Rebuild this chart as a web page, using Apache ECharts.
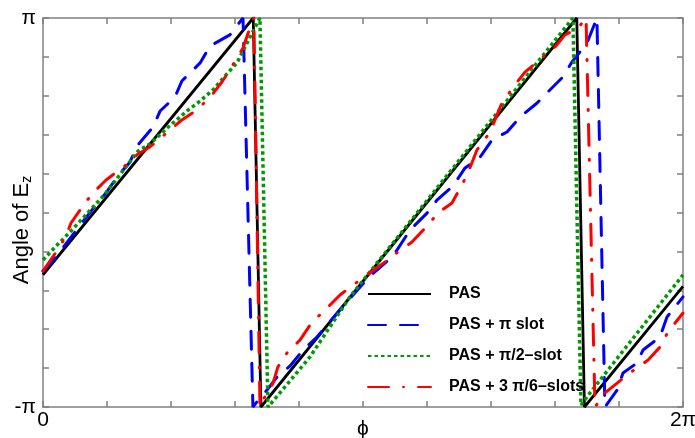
<!DOCTYPE html>
<html><head><meta charset="utf-8">
<script src="https://cdn.jsdelivr.net/npm/echarts@6/dist/echarts.min.js"></script>
<style>html,body{margin:0;padding:0;background:#fff}#c{width:695px;height:438px}</style>
</head><body><div id="c"></div>
<script>
// All x (phi) and y (angle) values are in units of pi.
const seriesNames = ['PAS', 'PAS + π slot', 'PAS + π/2\u2013slot', 'PAS + 3 π/6\u2013slots'];

const pasX = [0, 0.657, 0.681, 1.668, 1.692, 2.0];
const pasY = [-0.32, 1.0, -1.0, 1.0, -1.0, -0.38];

const piSlotX = [0, 0.0375, 0.078, 0.119, 0.1625, 0.194, 0.234, 0.272, 0.294, 0.344, 0.366, 0.4125, 0.434, 0.491, 0.522, 0.584, 0.625,
  0.656,
  0.678, 0.7, 0.731, 0.772, 0.8125, 0.856, 0.928, 1.022, 1.094, 1.147, 1.2, 1.231, 1.281, 1.319, 1.366, 1.403, 1.45, 1.491, 1.544, 1.584, 1.625, 1.653, 1.7, 1.731,
  1.756,
  1.794, 1.8125, 1.856, 1.875, 1.928, 1.95, 2.0];
const piSlotY = [-0.301, -0.234, -0.147, -0.059, 0.033, 0.095, 0.188, 0.26, 0.342, 0.44, 0.522, 0.594, 0.676, 0.769, 0.856, 0.913, 1.0,
  -1.0,
  -0.954, -0.913, -0.846, -0.789, -0.707, -0.64, -0.501, -0.326, -0.224, -0.09, -0.003, 0.064, 0.136, 0.229, 0.285, 0.373, 0.414, 0.491, 0.563, 0.63, 0.697, 0.774, 0.871, 1.0,
  -1.0,
  -0.913, -0.825, -0.774, -0.707, -0.64, -0.537, -0.434];

const halfPiSlotX = [0, 0.047, 0.0875, 0.194, 0.297, 0.334, 0.3875, 0.45, 0.491, 0.531, 0.569, 0.606, 0.647, 0.678,
  0.703, 0.756, 0.834, 0.959, 1.656,
  1.681, 1.709, 2.0];
const halfPiSlotY = [-0.244, -0.162, -0.095, 0.095, 0.316, 0.352, 0.434, 0.522, 0.573, 0.63, 0.702, 0.769, 0.902, 1.0,
  -1.0, -0.897, -0.743, -0.434, 1.0,
  -0.99, -0.928, -0.321];

const sixthSlotsX = [0, 0.041, 0.069, 0.0875, 0.131, 0.1625, 0.197, 0.259, 0.297, 0.334, 0.397, 0.434, 0.481, 0.528, 0.559, 0.584, 0.625, 0.641, 0.659,
  0.678,
  0.6875, 0.719, 0.734, 0.7625, 0.803, 0.841, 0.875, 0.928, 0.969, 1.0125, 1.069, 1.109, 1.153, 1.203, 1.234, 1.278, 1.3125, 1.334, 1.356, 1.397, 1.434, 1.475, 1.506, 1.544, 1.6, 1.631, 1.672, 1.697,
  1.725,
  1.756, 1.794, 1.834, 1.891, 1.928, 1.953, 2.0];
const sixthSlotsY = [-0.301, -0.203, -0.131, -0.054, 0.049, 0.111, 0.167, 0.244, 0.301, 0.337, 0.424, 0.476, 0.527, 0.604, 0.671, 0.733, 0.846, 0.923, 1.0,
  -1.0,
  -0.964, -0.877, -0.794, -0.722, -0.656, -0.563, -0.512, -0.424, -0.373, -0.321, -0.254, -0.203, -0.152, -0.064, -0.003, 0.049, 0.152, 0.229, 0.321, 0.414, 0.563, 0.656, 0.722, 0.774, 0.851, 0.913, 0.949, 1.0,
  -1.0,
  -0.928, -0.877, -0.825, -0.758, -0.692, -0.614, -0.517];

const xTickLabels = {0: '0', 2: '2π'};
const yTickLabels = {'-1': '-π', 1: 'π'};

function zip(xs, ys) { return xs.map((x, i) => [x, ys[i]]); }

const FONT = 'Liberation Sans, Arial, sans-serif';
const AX = '#808080';
const axisCommon = {
  type: 'value', interval: 0.2,
  axisLine: {show: true, onZero: false, lineStyle: {color: AX, width: 1.5}},
  axisTick: {show: true, inside: true, length: 6, lineStyle: {color: AX, width: 1.5}},
  splitLine: {show: false}
};
function near(v, t) { return Math.abs(v - t) < 1e-6; }

const chart = echarts.init(document.getElementById('c'), null, {renderer: 'canvas'});
chart.setOption({
  animation: false,
  backgroundColor: '#fff',
  grid: {left: 43, right: 12, top: 18, bottom: 31, containLabel: false, outerBoundsMode: 'none'},
  xAxis: [
    Object.assign({}, axisCommon, {
      min: 0, max: 2, position: 'bottom',
      axisLabel: {show: true, showMinLabel: true, showMaxLabel: true, margin: 3, color: '#000', fontSize: 21, fontFamily: FONT,
        formatter: v => near(v, 0) ? xTickLabels[0] : (near(v, 2) ? xTickLabels[2] : '')},
      name: 'ϕ', nameLocation: 'middle', nameGap: 12, nameMoveOverlap: false,
      nameTextStyle: {color: '#000', fontSize: 21, fontFamily: FONT}
    }),
    Object.assign({}, axisCommon, {min: 0, max: 2, position: 'top', axisLabel: {show: false}})
  ],
  yAxis: [
    Object.assign({}, axisCommon, {
      min: -1, max: 1, position: 'left',
      axisLabel: {show: true, showMinLabel: true, showMaxLabel: true, margin: 7, color: '#000', fontSize: 21, fontFamily: FONT,
        formatter: v => near(v, 1) ? yTickLabels[1] : (near(v, -1) ? yTickLabels['-1'] : '')},
      name: '{a|Angle of E}{s|z}', nameLocation: 'middle', nameGap: 9, nameRotate: 90, nameMoveOverlap: false,
      nameTextStyle: {color: '#000', fontFamily: FONT, padding: [0, 35, 0, 0],
        rich: {a: {fontSize: 22, fontFamily: FONT, color: '#000'},
               s: {fontSize: 14, fontFamily: FONT, color: '#000', padding: [10, 0, 0, 0]}}}
    }),
    Object.assign({}, axisCommon, {min: -1, max: 1, position: 'right', axisLabel: {show: false}})
  ],
  legend: {
    orient: 'vertical', left: 367, top: 286, padding: 0, itemWidth: 63, itemHeight: 14, itemGap: 15,
    data: seriesNames,
    itemStyle: {opacity: 0},
    lineStyle: {width: 2},
    textStyle: {color: '#000', fontSize: 16, fontWeight: 'bold', fontFamily: FONT, padding: [0, 0, 0, 13]}
  },
  series: [
    {name: seriesNames[0], type: 'line', data: zip(pasX, pasY), showSymbol: false, symbol: 'none',
     lineStyle: {color: '#000000', width: 2.8, type: 'solid'}, itemStyle: {color: '#000000'}},
    {name: seriesNames[1], type: 'line', data: zip(piSlotX, piSlotY), showSymbol: false, symbol: 'none',
     lineStyle: {color: '#0000ff', width: 3, type: [18, 14], cap: 'round'}, itemStyle: {color: '#0000ff'}},
    {name: seriesNames[2], type: 'line', data: zip(halfPiSlotX, halfPiSlotY), showSymbol: false, symbol: 'none',
     lineStyle: {color: '#009a00', width: 3.5, type: [3.5, 3], cap: 'butt'}, itemStyle: {color: '#009a00'}},
    {name: seriesNames[3], type: 'line', data: zip(sixthSlotsX, sixthSlotsY), showSymbol: false, symbol: 'none',
     lineStyle: {color: '#ff0000', width: 3, type: [21, 14, 1, 14], cap: 'round'}, itemStyle: {color: '#ff0000'}}
  ]
});
</script></body></html>
